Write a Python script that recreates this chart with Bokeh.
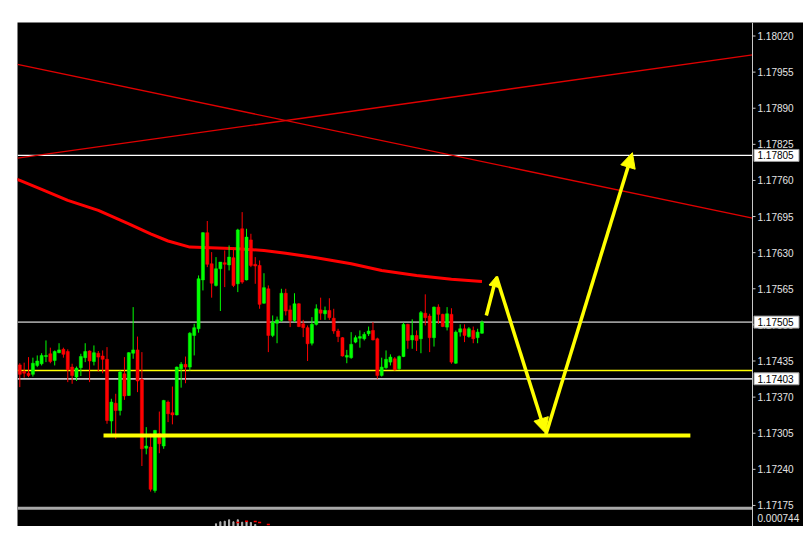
from bokeh.plotting import figure
from bokeh.models import Range1d, Arrow, NormalHead, ColumnDataSource, Spacer
from bokeh.core.properties import value
from bokeh.layouts import column, row
from bokeh.embed import file_html
from bokeh.resources import INLINE

# ---------------- data ----------------
opens = [1.17428, 1.17416, 1.17413, 1.17411, 1.17427, 1.17430, 1.17443, 1.17448, 1.17436, 1.17450,
         1.17456, 1.17452, 1.17424, 1.17406, 1.17423, 1.17441, 1.17453, 1.17434, 1.17449, 1.17444,
         1.17438, 1.17327, 1.17359, 1.17346, 1.17412, 1.17373, 1.17449, 1.17455, 1.17402, 1.17278,
         1.17280, 1.17202, 1.17304, 1.17282, 1.17361, 1.17342, 1.17338, 1.17421, 1.17429, 1.17424,
         1.17481, 1.17493, 1.17581, 1.17666, 1.17610, 1.17571, 1.17601, 1.17612, 1.17608, 1.17621,
         1.17574, 1.17673, 1.17581, 1.17653, 1.17609, 1.17607, 1.17539, 1.17565, 1.17481, 1.17503,
         1.17508, 1.17557, 1.17527, 1.17508, 1.17538, 1.17502, 1.17495, 1.17467, 1.17501, 1.17527,
         1.17520, 1.17526, 1.17512, 1.17489, 1.17477, 1.17442, 1.17441, 1.17469, 1.17476, 1.17475,
         1.17484, 1.17490, 1.17475, 1.17409, 1.17423, 1.17433, 1.17439, 1.17421, 1.17443, 1.17501,
         1.17473, 1.17481, 1.17475, 1.17521, 1.17516, 1.17477, 1.17532, 1.17519, 1.17496, 1.17519,
         1.17431, 1.17487, 1.17493, 1.17479, 1.17490, 1.17477, 1.17485]
highs = [1.17431, 1.17432, 1.17442, 1.17441, 1.17445, 1.17449, 1.17472, 1.17459, 1.17454, 1.17467,
         1.17459, 1.17456, 1.17430, 1.17425, 1.17448, 1.17467, 1.17454, 1.17463, 1.17453, 1.17454,
         1.17460, 1.17367, 1.17376, 1.17418, 1.17442, 1.17451, 1.17532, 1.17479, 1.17451, 1.17316,
         1.17304, 1.17311, 1.17344, 1.17365, 1.17364, 1.17389, 1.17425, 1.17433, 1.17443, 1.17487,
         1.17502, 1.17589, 1.17667, 1.17687, 1.17631, 1.17622, 1.17613, 1.17634, 1.17643, 1.17640,
         1.17673, 1.17703, 1.17673, 1.17664, 1.17622, 1.17616, 1.17593, 1.17571, 1.17517, 1.17515,
         1.17565, 1.17565, 1.17535, 1.17557, 1.17539, 1.17509, 1.17499, 1.17514, 1.17537, 1.17549,
         1.17533, 1.17548, 1.17529, 1.17493, 1.17478, 1.17455, 1.17487, 1.17481, 1.17490, 1.17487,
         1.17497, 1.17505, 1.17477, 1.17441, 1.17454, 1.17447, 1.17442, 1.17445, 1.17504, 1.17502,
         1.17510, 1.17490, 1.17525, 1.17555, 1.17520, 1.17533, 1.17537, 1.17520, 1.17532, 1.17530,
         1.17490, 1.17501, 1.17501, 1.17496, 1.17497, 1.17493, 1.17508]
lows = [1.17388, 1.17405, 1.17406, 1.17407, 1.17424, 1.17427, 1.17433, 1.17431, 1.17427, 1.17449,
        1.17441, 1.17397, 1.17394, 1.17399, 1.17408, 1.17433, 1.17397, 1.17427, 1.17416, 1.17413,
        1.17322, 1.17304, 1.17295, 1.17337, 1.17365, 1.17372, 1.17439, 1.17379, 1.17246, 1.17267,
        1.17200, 1.17198, 1.17269, 1.17277, 1.17325, 1.17321, 1.17337, 1.17387, 1.17395, 1.17418,
        1.17445, 1.17486, 1.17562, 1.17604, 1.17549, 1.17569, 1.17525, 1.17568, 1.17598, 1.17568,
        1.17559, 1.17574, 1.17580, 1.17604, 1.17574, 1.17529, 1.17538, 1.17451, 1.17478, 1.17467,
        1.17505, 1.17517, 1.17496, 1.17505, 1.17496, 1.17478, 1.17435, 1.17463, 1.17499, 1.17509,
        1.17509, 1.17509, 1.17484, 1.17469, 1.17443, 1.17431, 1.17439, 1.17467, 1.17459, 1.17472,
        1.17480, 1.17472, 1.17403, 1.17407, 1.17421, 1.17427, 1.17418, 1.17419, 1.17442, 1.17457,
        1.17457, 1.17453, 1.17449, 1.17499, 1.17451, 1.17461, 1.17502, 1.17496, 1.17490, 1.17430,
        1.17430, 1.17479, 1.17469, 1.17477, 1.17467, 1.17467, 1.17484]
closes = [1.17411, 1.17413, 1.17409, 1.17431, 1.17435, 1.17445, 1.17445, 1.17434, 1.17452, 1.17455,
          1.17447, 1.17419, 1.17409, 1.17422, 1.17443, 1.17452, 1.17435, 1.17450, 1.17442, 1.17438,
          1.17328, 1.17361, 1.17346, 1.17415, 1.17372, 1.17450, 1.17455, 1.17399, 1.17277, 1.17282,
          1.17204, 1.17310, 1.17286, 1.17364, 1.17340, 1.17338, 1.17424, 1.17429, 1.17424, 1.17485,
          1.17495, 1.17583, 1.17666, 1.17609, 1.17575, 1.17601, 1.17613, 1.17609, 1.17622, 1.17571,
          1.17671, 1.17577, 1.17658, 1.17607, 1.17606, 1.17537, 1.17567, 1.17481, 1.17505, 1.17509,
          1.17557, 1.17525, 1.17508, 1.17538, 1.17497, 1.17495, 1.17466, 1.17501, 1.17529, 1.17521,
          1.17526, 1.17513, 1.17489, 1.17479, 1.17444, 1.17445, 1.17465, 1.17477, 1.17479, 1.17483,
          1.17489, 1.17473, 1.17409, 1.17424, 1.17438, 1.17442, 1.17419, 1.17443, 1.17501, 1.17472,
          1.17481, 1.17472, 1.17522, 1.17513, 1.17477, 1.17532, 1.17519, 1.17497, 1.17520, 1.17433,
          1.17487, 1.17493, 1.17481, 1.17493, 1.17475, 1.17487, 1.17505]

# moving average (bar index, price)
ma_idx = [-1, 0, 5, 11, 18, 25, 30, 34, 39, 50, 56, 61, 68, 76, 83, 91, 99, 106]
ma_val = [1.17763, 1.17760, 1.17744, 1.17724, 1.17706, 1.17682, 1.17664, 1.17651, 1.17640,
          1.17637, 1.17634, 1.17629, 1.17621, 1.17610, 1.17598, 1.17589, 1.17582, 1.17578]

# trend lines (bar index, price)
trend_x = [-0.53, 168.05]
trend_down = [1.17969, 1.17692]
trend_up = [1.17800, 1.17986]

# horizontal levels
level_white = 1.17805
level_gray_hi = 1.17505
level_yellow = 1.17418
level_gray_lo = 1.17403
support_x = [19.2, 153.8]
support_y = [1.17301, 1.17301]

# projected path arrows (bar index, price)
arrow_x0 = [107.0, 109.3, 120.6]
arrow_y0 = [1.17517, 1.17587, 1.17301]
arrow_x1 = [109.3, 120.6, 140.5]
arrow_y1 = [1.17587, 1.17305, 1.17810]
arrow_head = [10, 15, 15]

# price-scale ticks
tick_prices = [1.18020, 1.17955, 1.17890, 1.17825, 1.17760, 1.17695, 1.17630, 1.17565,
               1.17500, 1.17435, 1.17370, 1.17305, 1.17240, 1.17175]

# sub-window indicator
ind_idx = [45, 46, 47, 48, 49, 50, 51, 52, 53, 54]
ind_val = [0.000126, 0.000219, 0.000246, 0.000312, 0.000219, 0.000312, 0.000200, 0.000219, 0.000186, 0.000093]
sig_idx = [50, 52, 54, 55, 57]
sig_val = [0.000186, 0.000246, 0.000233, 0.000186, 0.000093]
ind_max = 0.000744

# ---------------- figure ----------------
PX = 4.36                       # pixels per bar
y_top, y_bot = 1.180443, 1.171371
x_left = -0.53
x_axis = 168.05                 # price-scale line (last visible bar slot)
x_right = x_left + 786 / PX
sub_base = y_bot
sub_top_price = 1.17166
sub_scale = (sub_top_price - y_bot) / ind_max

UP, DOWN = "#00ff00", "#ff0000"
FONT = value("Liberation Sans")

p = figure(width=786, height=504, output_backend="svg", toolbar_location=None,
           x_range=Range1d(x_left, x_right), y_range=Range1d(y_bot, y_top),
           x_axis_location=None, y_axis_location=None,
           background_fill_color="black", border_fill_color="black",
           min_border_left=0, min_border_top=0, min_border_bottom=0, min_border_right=0)
p.outline_line_color = None
p.grid.visible = False

# horizontal levels (end at the price scale)
def hline(yv, color, w):
    p.line([x_left, x_axis], [yv, yv], line_color=color, line_width=w)

hline(level_white, "white", 1.2)
hline(level_gray_hi, "#9a9a9a", 1.6)
hline(level_yellow, "#ffff00", 1.4)
hline(level_gray_lo, "#c4c4c4", 1.8)
hline(1.17170, "#a8a8a8", 3)

# trend lines
p.line(trend_x, trend_down, line_color="#e00000", line_width=1.3)
p.line(trend_x, trend_up, line_color="#e00000", line_width=1.3)

# moving average
p.line(ma_idx, ma_val, line_color="#ff0000", line_width=3)

# candles
idx = list(range(len(opens)))
cols = [UP if c >= o else DOWN for o, c in zip(opens, closes)]
src = ColumnDataSource(dict(x=idx, o=opens, h=highs, l=lows, c=closes,
                            top=[max(o, c) for o, c in zip(opens, closes)],
                            bot=[min(o, c) for o, c in zip(opens, closes)],
                            col=cols))
p.segment(x0="x", y0="h", x1="x", y1="l", line_color="col", line_width=1, source=src)
p.vbar(x="x", width=0.7, top="top", bottom="bot", fill_color="col", line_color="col",
       line_width=0.5, source=src)

# support line
p.line(support_x, support_y, line_color="#ffff00", line_width=4)

# arrows
for x0, y0, x1, y1, hs in zip(arrow_x0, arrow_y0, arrow_x1, arrow_y1, arrow_head):
    p.add_layout(Arrow(end=NormalHead(size=hs, fill_color="#ffff00", line_color="#ffff00", line_width=1),
                       x_start=x0, y_start=y0, x_end=x1, y_end=y1,
                       line_color="#ffff00", line_width=3.5))

# indicator sub-window
p.vbar(x=ind_idx, width=0.25, bottom=sub_base,
       top=[sub_base + v * sub_scale for v in ind_val], color="#b4b4b4")
p.segment(x0=[i - 0.35 for i in sig_idx], x1=[i + 0.35 for i in sig_idx],
          y0=[sub_base + v * sub_scale for v in sig_val],
          y1=[sub_base + v * sub_scale for v in sig_val], line_color="#ff0000", line_width=1.5)

# ---------------- price scale (drawn on the right) ----------------
p.segment(x0=[x_axis], y0=[y_bot], x1=[x_axis], y1=[y_top], line_color="#c8c8c8", line_width=1)
p.segment(x0=[x_axis] * len(tick_prices), x1=[x_axis + 3 / PX] * len(tick_prices),
          y0=tick_prices, y1=tick_prices, line_color="#c8c8c8", line_width=1)
p.text(x=[x_axis + 5 / PX] * len(tick_prices), y=tick_prices,
       text=["%.5f" % t for t in tick_prices], text_font=FONT, text_font_size="10px",
       text_color="#e4e4e4", text_baseline="middle", text_align="left")

# highlighted price boxes
box_levels = [level_white, level_gray_hi, level_gray_lo]
box_cx = x_axis + 24 / PX
p.rect(x=[box_cx] * 3, y=box_levels, width=45, width_units="screen", height=12,
       height_units="screen", fill_color="white", line_color="#9a9a9a", line_width=1)
p.text(x=[x_axis + 5 / PX] * 3, y=box_levels, text=["%.5f" % v for v in box_levels],
       text_font=FONT, text_font_size="10px", text_color="black",
       text_baseline="middle", text_align="left")

# indicator window scale value
p.text(x=[x_axis + 5 / PX], y=[sub_base + 0.5 * (sub_top_price - sub_base)], text=["%.6f" % ind_max],
       text_font=FONT, text_font_size="10px", text_color="#e4e4e4",
       text_baseline="middle", text_align="left")

layout = column(Spacer(height=22), row(Spacer(width=17), p))
html = file_html(layout, INLINE)
html = html.replace("<body>", '<body style="background-color:#232323;">', 1)
open("out.html", "w").write(html)
